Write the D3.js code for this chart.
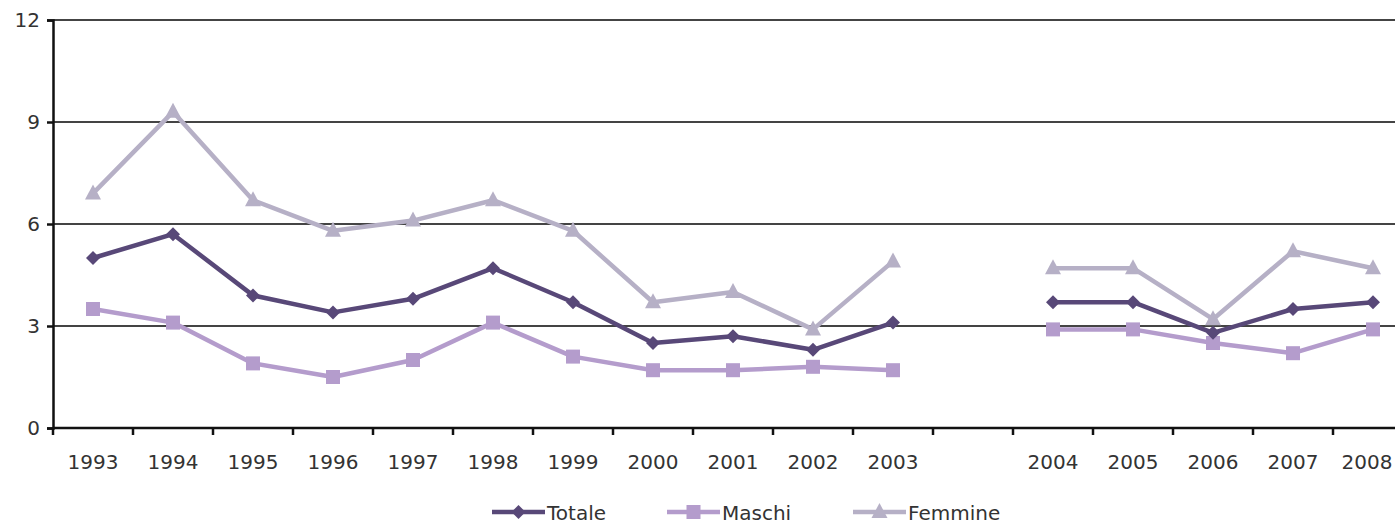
<!DOCTYPE html>
<html>
<head>
<meta charset="utf-8">
<script src="https://cdn.jsdelivr.net/npm/d3@7"></script>
<style>
  html, body { margin: 0; padding: 0; background: #fff; overflow: hidden; }
  svg { display: block; }
  text { font-family: "DejaVu Sans", Verdana, sans-serif; fill: #333; }
</style>
</head>
<body>
<svg id="chart" width="1395" height="524"></svg>
<script>
// ---- data ----
const categories = ["1993","1994","1995","1996","1997","1998","1999","2000","2001","2002","2003","","2004","2005","2006","2007","2008"];
const totale  = [5.0, 5.7, 3.9, 3.4, 3.8, 4.7, 3.7, 2.5, 2.7, 2.3, 3.1, null, 3.7, 3.7, 2.8, 3.5, 3.7];
const maschi  = [3.5, 3.1, 1.9, 1.5, 2.0, 3.1, 2.1, 1.7, 1.7, 1.8, 1.7, null, 2.9, 2.9, 2.5, 2.2, 2.9];
const femmine = [6.9, 9.3, 6.7, 5.8, 6.1, 6.7, 5.8, 3.7, 4.0, 2.9, 4.9, null, 4.7, 4.7, 3.2, 5.2, 4.7];
const yTicks = [0, 3, 6, 9, 12];
const seriesNames = ["Totale", "Maschi", "Femmine"];

// ---- layout ----
const svg = d3.select("#chart");
const W = 1395;
const x0 = 53, step = 80;
const x = d3.scaleBand().domain(categories.map((c, i) => i)).range([x0, x0 + step * categories.length]).padding(0);
const y = d3.scaleLinear().domain([0, 12]).range([428, 20]);

const colors = { Totale: "#584878", Maschi: "#b49ccc", Femmine: "#b6b0c6" };
const series = [
  { name: "Totale", values: totale, marker: "diamond" },
  { name: "Maschi", values: maschi, marker: "square" },
  { name: "Femmine", values: femmine, marker: "triangle" }
];

// gridlines
svg.append("g").selectAll("line").data(yTicks.filter(t => t > 0)).join("line")
  .attr("x1", x0).attr("x2", W)
  .attr("y1", d => y(d)).attr("y2", d => y(d))
  .attr("stroke", "#444").attr("stroke-width", 2);

// y axis
const yAxis = svg.append("g").attr("transform", `translate(${x0},0)`)
  .call(d3.axisLeft(y).tickValues(yTicks).tickSize(6).tickPadding(7));
yAxis.select(".domain").attr("stroke", "#111").attr("stroke-width", 2.5);
yAxis.selectAll(".tick line").attr("stroke", "#111").attr("stroke-width", 2.5);
yAxis.selectAll(".tick text").style("font-size", "20px").style("font-family", "DejaVu Sans, Verdana, sans-serif").attr("fill", "#333");

// x axis line
svg.append("line").attr("x1", x0).attr("x2", W).attr("y1", y(0)).attr("y2", y(0))
  .attr("stroke", "#111").attr("stroke-width", 2.5);
// x ticks at band boundaries
const boundaries = d3.range(0, categories.length + 1).map(i => x0 + i * x.step());
svg.append("g").selectAll("line").data(boundaries).join("line")
  .attr("x1", d => d).attr("x2", d => d)
  .attr("y1", y(0)).attr("y2", y(0) + 7)
  .attr("stroke", "#111").attr("stroke-width", 2.5);
// x labels (kept inside the picture at the right edge)
svg.append("g").selectAll("text").data(categories.map((c, i) => ({ c, i })).filter(d => d.c !== "")).join("text")
  .attr("x", d => Math.min(x(d.i) + x.bandwidth() / 2, W - 28))
  .attr("y", 469)
  .attr("text-anchor", "middle")
  .style("font-size", "20px")
  .text(d => d.c);

// markers
function drawMarker(g, type, cx, cy, color) {
  if (type === "diamond") {
    g.append("path").attr("d", `M${cx},${cy - 7}L${cx + 7},${cy}L${cx},${cy + 7}L${cx - 7},${cy}Z`).attr("fill", color);
  } else if (type === "square") {
    g.append("rect").attr("x", cx - 7).attr("y", cy - 7).attr("width", 14).attr("height", 14).attr("fill", color);
  } else {
    g.append("path").attr("d", `M${cx},${cy - 9}L${cx + 8},${cy + 6}L${cx - 8},${cy + 6}Z`).attr("fill", color);
  }
}

const line = d3.line()
  .defined(d => d.v !== null)
  .x(d => x(d.i) + x.bandwidth() / 2)
  .y(d => y(d.v));

// draw in order: Femmine, Maschi, Totale (Totale on top)
[series[2], series[1], series[0]].forEach(s => {
  const pts = s.values.map((v, i) => ({ v, i }));
  svg.append("path").datum(pts).attr("d", line)
    .attr("fill", "none").attr("stroke", colors[s.name]).attr("stroke-width", 4.5)
    .attr("stroke-linejoin", "round");
  const g = svg.append("g");
  pts.filter(d => d.v !== null).forEach(d => {
    drawMarker(g, s.marker, x(d.i) + x.bandwidth() / 2, y(d.v), colors[s.name]);
  });
});

// legend
const legendItems = [
  { name: "Totale", x1: 492, marker: "diamond" },
  { name: "Maschi", x1: 667, marker: "square" },
  { name: "Femmine", x1: 853, marker: "triangle" }
];
const ly = 512;
legendItems.forEach(it => {
  const g = svg.append("g");
  const c = colors[it.name];
  g.append("line").attr("x1", it.x1).attr("x2", it.x1 + 53).attr("y1", ly).attr("y2", ly)
    .attr("stroke", c).attr("stroke-width", 4.5);
  drawMarker(g, it.marker, it.x1 + 26.5, ly, c);
  g.append("text").attr("x", it.x1 + 55).attr("y", ly + 7.5).style("font-size", "20px").text(it.name);
});
</script>
</body>
</html>
